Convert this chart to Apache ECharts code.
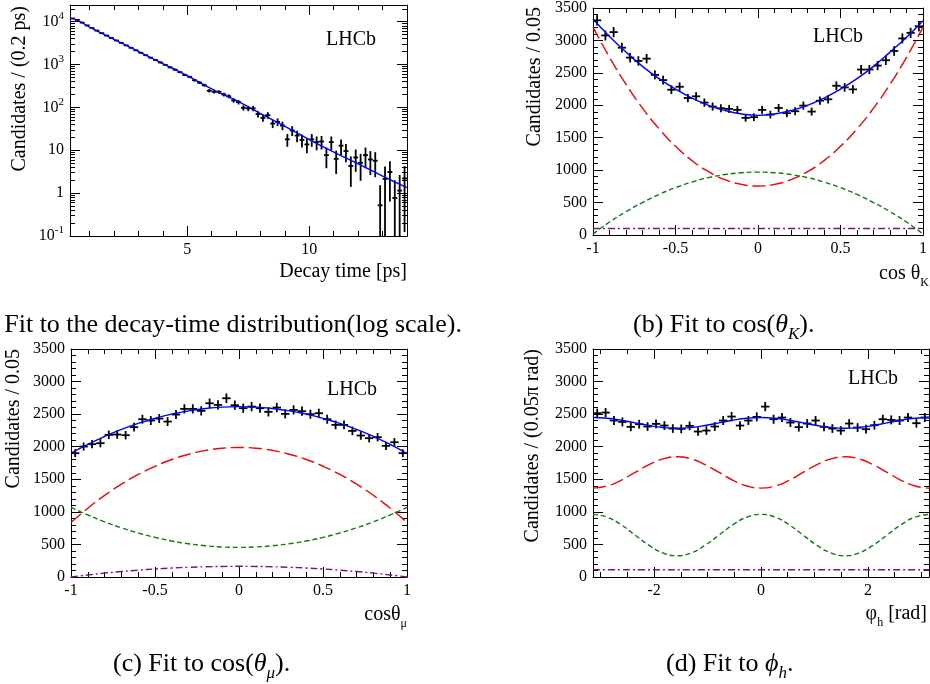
<!DOCTYPE html>
<html>
<head>
<meta charset="utf-8">
<script src="https://cdn.jsdelivr.net/npm/echarts@6/dist/echarts.min.js"></script>
<style>
html, body { margin: 0; background: #fff; }
#chart { width: 930px; height: 684px; }
</style>
</head>
<body>
<div id="chart"></div>
<script>
// (a) decay time, bins of 0.2 ps
const decayTime = [0.3, 0.5, 0.7, 0.9, 1.1, 1.3, 1.5, 1.7, 1.9, 2.1, 2.3, 2.5, 2.7, 2.9, 3.1, 3.3, 3.5, 3.7, 3.9, 4.1, 4.3, 4.5, 4.7, 4.9, 5.1, 5.3, 5.5, 5.7, 5.9, 6.1, 6.3, 6.5, 6.7, 6.9, 7.1, 7.3, 7.5, 7.7, 7.9, 8.1, 8.3, 8.5, 8.7, 8.9, 9.1, 9.3, 9.5, 9.7, 9.9, 10.1, 10.3, 10.5, 10.7, 10.9, 11.1, 11.3, 11.5, 11.7, 11.9, 12.1, 12.3, 12.5, 12.7, 12.9, 13.1, 13.3, 13.5, 13.7, 13.9]
const decayCounts = [11900, 11000, 9500, 8200, 7100, 6200, 5400, 4750, 4150, 3650, 3200, 2800, 2460, 2150, 1880, 1650, 1450, 1280, 1120, 985, 860, 760, 665, 570, 515, 430, 380, 330, 245, 232, 230, 200, 182, 146, 133, 98, 95, 95, 70, 57, 66, 42, 46, 38, 18, 29, 22, 17.5, 13.7, 18, 15.5, 16, 7.7, 15.5, 6.3, 12.8, 9.6, 4.3, 6.8, 5.1, 7.7, 6.1, 5.7, 0.52, 2.15, 3.1, 0.77, 1.15, 2.2]
const decayFitT = [0.2, 0.5, 1, 2, 3, 4, 5, 6, 7, 8, 9, 10, 11, 12, 13, 14]
const decayFit = [12100, 10900, 7450, 3880, 2020, 1055, 550, 270, 145, 72, 36, 17.8, 9.1, 4.8, 2.5, 1.35]

// (b), (c) cos bins of 0.05
const cosBins = [-0.975, -0.925, -0.875, -0.825, -0.775, -0.725, -0.675, -0.625, -0.575, -0.525, -0.475, -0.425, -0.375, -0.325, -0.275, -0.225, -0.175, -0.125, -0.075, -0.025, 0.025, 0.075, 0.125, 0.175, 0.225, 0.275, 0.325, 0.375, 0.425, 0.475, 0.525, 0.575, 0.625, 0.675, 0.725, 0.775, 0.825, 0.875, 0.925, 0.975]
const cosKCounts = [3310, 3077, 3128, 2888, 2735, 2684, 2719, 2469, 2388, 2240, 2286, 2112, 2138, 2041, 1980, 1954, 1944, 1929, 1806, 1816, 1929, 1857, 1959, 1878, 1908, 1995, 1903, 2071, 2092, 2301, 2276, 2245, 2551, 2551, 2612, 2694, 2837, 3031, 3117, 3219]
const cosMuCounts = [1901, 2003, 2039, 2054, 2182, 2187, 2177, 2300, 2422, 2402, 2432, 2386, 2494, 2581, 2581, 2550, 2667, 2642, 2744, 2637, 2591, 2616, 2591, 2535, 2601, 2504, 2565, 2545, 2499, 2514, 2422, 2335, 2335, 2243, 2172, 2131, 2146, 2013, 2069, 1901]

const cosCurveX = [-1, -0.9, -0.8, -0.7, -0.6, -0.5, -0.4, -0.3, -0.2, -0.1, 0, 0.1, 0.2, 0.3, 0.4, 0.5, 0.6, 0.7, 0.8, 0.9, 1]
const cosKTotal = [3330, 3060, 2820, 2600, 2410, 2250, 2110, 2000, 1920, 1865, 1845, 1865, 1920, 2000, 2110, 2250, 2410, 2600, 2820, 3050, 3305]
const cosKRed = [3205, 2740, 2323, 1956, 1637, 1368, 1147, 976, 853, 780, 755, 780, 853, 976, 1147, 1368, 1637, 1956, 2323, 2740, 3205]
const cosKGreen = [15, 200, 360, 500, 625, 730, 815, 885, 932, 960, 970, 960, 932, 885, 815, 730, 625, 500, 360, 200, 15]
const cosKPurpleX = [-1, 1]
const cosKPurple = [100, 100]

const cosMuTotal = [1900, 2036, 2157, 2265, 2358, 2436, 2501, 2551, 2586, 2608, 2615, 2608, 2586, 2551, 2501, 2436, 2358, 2265, 2157, 2036, 1895]
const cosMuRed = [838, 1056, 1252, 1425, 1574, 1700, 1804, 1885, 1942, 1977, 1988, 1977, 1942, 1885, 1804, 1700, 1574, 1425, 1252, 1056, 838]
const cosMuGreen = [1068, 952, 847, 755, 676, 608, 553, 510, 480, 461, 455, 461, 480, 510, 553, 608, 676, 755, 847, 952, 1068]
const cosMuPurple = [0, 31, 59, 84, 105, 123, 138, 149, 157, 162, 164, 162, 157, 149, 138, 123, 105, 84, 59, 31, 0]

// (d) phi bins of 0.05 pi
const phiBins = [-3.063, -2.906, -2.749, -2.592, -2.435, -2.278, -2.121, -1.963, -1.806, -1.649, -1.492, -1.335, -1.178, -1.021, -0.864, -0.707, -0.550, -0.393, -0.236, -0.079, 0.079, 0.236, 0.393, 0.550, 0.707, 0.864, 1.021, 1.178, 1.335, 1.492, 1.649, 1.806, 1.963, 2.121, 2.278, 2.435, 2.592, 2.749, 2.906, 3.063]
const phiCounts = [2514, 2524, 2402, 2381, 2305, 2346, 2310, 2351, 2325, 2279, 2274, 2320, 2233, 2248, 2310, 2402, 2463, 2325, 2402, 2458, 2616, 2422, 2448, 2371, 2300, 2356, 2402, 2305, 2279, 2248, 2356, 2294, 2269, 2330, 2422, 2412, 2402, 2448, 2361, 2448]
const phiCurveX = [-3.1416, -2.88, -2.618, -2.356, -2.094, -1.833, -1.571, -1.309, -1.047, -0.785, -0.524, -0.262, 0, 0.262, 0.524, 0.785, 1.047, 1.309, 1.571, 1.833, 2.094, 2.356, 2.618, 2.88, 3.1416]
const phiTotal = [2448, 2437, 2407, 2366, 2325, 2295, 2284, 2295, 2325, 2366, 2407, 2437, 2448, 2437, 2407, 2366, 2325, 2295, 2284, 2295, 2325, 2366, 2407, 2437, 2448]
const phiRed = [1365, 1397, 1485, 1605, 1725, 1813, 1845, 1813, 1725, 1605, 1485, 1397, 1365, 1397, 1485, 1605, 1725, 1813, 1845, 1813, 1725, 1605, 1485, 1397, 1365]
const phiGreen = [961, 919, 803, 644, 486, 369, 327, 369, 486, 644, 803, 919, 961, 919, 803, 644, 486, 369, 327, 369, 486, 644, 803, 919, 961]
const phiPurpleX = [-3.1416, 3.1416]
const phiPurple = [112, 112]

// tick values
const logMajor = [0.1, 1, 10, 100, 1000, 10000]
const decayMajorT = [5, 10]
const decayMinorT = [1, 2, 3, 4, 6, 7, 8, 9, 11, 12, 13, 14]
const phiMajor = [-2, 0, 2]
const phiMinor = [-3, -2.5, -1.5, -1, -0.5, 0.5, 1, 1.5, 2.5, 3]

const FONT = "Liberation Serif"
const ERR_SCALE = 1.4

let logMinor = []
for (let p = -1; p <= 4; p++) {
    for (let m = 2; m <= 9; m++) logMinor.push(m * Math.pow(10, p))
}

const grids = [
    { left: 70, top: 5, width: 337, height: 231 },
    { left: 593, top: 7, width: 336, height: 228 },
    { left: 71, top: 349, width: 336, height: 228 },
    { left: 593, top: 349, width: 336, height: 228 },
]

function axis(grid, position, min, max, o) {
    const a = {
        gridIndex: grid,
        position: position,
        type: o.type || "value",
        min: min,
        max: max,
        axisLine: { show: o.line !== false, onZero: false, lineStyle: { color: "#000", width: 1 } },
        axisTick: { show: true, inside: true, length: o.len || 10, lineStyle: { color: "#000", width: 1 } },
        axisLabel: {
            show: !!o.label,
            color: "#000",
            fontFamily: FONT,
            fontSize: 16,
            margin: 6,
            formatter: v => String(v),
        },
        splitLine: { show: false },
    }
    if (o.type === "log") a.logBase = 10
    if (o.interval) a.interval = o.interval
    if (o.ticks) a.axisTick.customValues = o.ticks
    if (o.ticks && o.label) a.axisLabel.customValues = o.ticks
    if (o.formatter) a.axisLabel.formatter = o.formatter
    if (o.rich) {
        a.axisLabel.rich = o.rich
        a.axisLabel.lineHeight = 22
    }
    if (o.minor) a.minorTick = { show: true, splitNumber: o.minor, length: 5, lineStyle: { color: "#000", width: 1 } }
    return a
}

const logFormatter = v => {
    const p = Math.round(Math.log10(v))
    if (p === 0) return "1"
    if (p === 1) return "10"
    return "10{sup|" + p + "}"
}
const supRich = { sup: { fontSize: 11, lineHeight: 11, verticalAlign: "top", fontFamily: FONT, color: "#000" } }

const PI = Math.PI
const xAxes = [
    axis(0, "bottom", 0.2, 14, { ticks: decayMajorT, label: true }),
    axis(0, "bottom", 0.2, 14, { ticks: decayMinorT, len: 5, line: false }),
    axis(0, "top", 0.2, 14, { ticks: decayMajorT }),
    axis(0, "top", 0.2, 14, { ticks: decayMinorT, len: 5, line: false }),
    axis(1, "bottom", -1, 1, { interval: 0.5, minor: 5, label: true }),
    axis(1, "top", -1, 1, { interval: 0.5, minor: 5 }),
    axis(2, "bottom", -1, 1, { interval: 0.5, minor: 5, label: true }),
    axis(2, "top", -1, 1, { interval: 0.5, minor: 5 }),
    axis(3, "bottom", -PI, PI, { ticks: phiMajor, label: true }),
    axis(3, "bottom", -PI, PI, { ticks: phiMinor, len: 5, line: false }),
    axis(3, "top", -PI, PI, { ticks: phiMajor }),
    axis(3, "top", -PI, PI, { ticks: phiMinor, len: 5, line: false }),
]
const yAxes = [
    axis(0, "left", 0.1, 24500, { type: "log", ticks: logMajor, label: true, formatter: logFormatter, rich: supRich }),
    axis(0, "left", 0.1, 24500, { type: "log", ticks: logMinor, len: 5, line: false }),
    axis(0, "right", 0.1, 24500, { type: "log", ticks: logMajor }),
    axis(0, "right", 0.1, 24500, { type: "log", ticks: logMinor, len: 5, line: false }),
    axis(1, "left", 0, 3500, { interval: 500, minor: 5, label: true }),
    axis(1, "right", 0, 3500, { interval: 500, minor: 5 }),
    axis(2, "left", 0, 3500, { interval: 500, minor: 5, label: true }),
    axis(2, "right", 0, 3500, { interval: 500, minor: 5 }),
    axis(3, "left", 0, 3500, { interval: 500, minor: 5, label: true }),
    axis(3, "right", 0, 3500, { interval: 500, minor: 5 }),
]

function points(xs, ys, halfW, xi, yi, floor) {
    return {
        type: "custom",
        xAxisIndex: xi,
        yAxisIndex: yi,
        clip: true,
        z: 3,
        data: xs.map((x, i) => [x, ys[i], ERR_SCALE * Math.sqrt(ys[i])]),
        renderItem: (params, api) => {
            const x = api.value(0)
            const y = api.value(1)
            const e = api.value(2)
            const c = api.coord([x, y])
            const l = api.coord([x - halfW, y])
            const r = api.coord([x + halfW, y])
            const t = api.coord([x, y + e])
            const b = api.coord([x, Math.max(y - e, floor)])
            const st = { stroke: "#000", lineWidth: 1.8 }
            return {
                type: "group",
                children: [
                    { type: "line", shape: { x1: l[0], y1: c[1], x2: r[0], y2: c[1] }, style: st },
                    { type: "line", shape: { x1: c[0], y1: t[1], x2: c[0], y2: b[1] }, style: st },
                ],
            }
        },
    }
}

function curve(xs, ys, xi, yi, color, dash) {
    return {
        type: "line",
        xAxisIndex: xi,
        yAxisIndex: yi,
        data: xs.map((x, i) => [x, ys[i]]),
        smooth: true,
        showSymbol: false,
        z: 4,
        lineStyle: { color: color, width: 1.4, type: dash || "solid" },
    }
}

const RED_DASH = [13, 5]
const GREEN_DASH = [5, 3]
const PURPLE_DASH = [7, 3, 2, 3]
const GREEN = "#0f7a0f"
const PURPLE = "#80107f"

const series = [
    points(decayTime, decayCounts, 0.1, 0, 0, 0.01),
    curve(decayFitT, decayFit, 0, 0, "#0000ff"),

    points(cosBins, cosKCounts, 0.025, 4, 4, -100),
    curve(cosCurveX, cosKRed, 4, 4, "#ff0000", RED_DASH),
    curve(cosCurveX, cosKGreen, 4, 4, GREEN, GREEN_DASH),
    curve(cosKPurpleX, cosKPurple, 4, 4, PURPLE, PURPLE_DASH),
    curve(cosCurveX, cosKTotal, 4, 4, "#0000ff"),

    points(cosBins, cosMuCounts, 0.025, 6, 6, -100),
    curve(cosCurveX, cosMuRed, 6, 6, "#ff0000", RED_DASH),
    curve(cosCurveX, cosMuGreen, 6, 6, GREEN, GREEN_DASH),
    curve(cosCurveX, cosMuPurple, 6, 6, PURPLE, PURPLE_DASH),
    curve(cosCurveX, cosMuTotal, 6, 6, "#0000ff"),

    points(phiBins, phiCounts, 0.0785, 8, 8, -100),
    curve(phiCurveX, phiRed, 8, 8, "#ff0000", RED_DASH),
    curve(phiCurveX, phiGreen, 8, 8, GREEN, GREEN_DASH),
    curve(phiPurpleX, phiPurple, 8, 8, PURPLE, PURPLE_DASH),
    curve(phiCurveX, phiTotal, 8, 8, "#0000ff"),
]

// texts
function txt(x, y, text, align, size, rot, rich) {
    const g = {
        type: "text",
        x: x,
        y: y,
        z: 10,
        style: {
            text: text,
            fill: "#000",
            font: size + 'px "' + FONT + '"',
            textAlign: align,
            textVerticalAlign: "middle",
        },
    }
    if (rot) g.rotation = rot
    if (rich) g.style.rich = rich
    return g
}
const subRich = {
    m: { fontSize: 20, fontFamily: FONT, fill: "#000", lineHeight: 30 },
    s: { fontSize: 12, fontFamily: FONT, fill: "#000", lineHeight: 12, verticalAlign: "bottom" },
}
const capRich = {
    m: { fontSize: 26, fontFamily: FONT, fill: "#000", lineHeight: 36 },
    i: { fontSize: 26, fontFamily: FONT, fontStyle: "italic", fill: "#000", lineHeight: 36 },
    s: { fontSize: 17, fontFamily: FONT, fontStyle: "italic", fill: "#000", lineHeight: 17, verticalAlign: "bottom" },
}

const graphic = [
    txt(20, 6, "Candidates / (0.2 ps)", "right", 20, PI / 2),
    txt(535, 7, "Candidates / 0.05", "right", 20, PI / 2),
    txt(14, 349, "Candidates / 0.05", "right", 20, PI / 2),
    txt(533, 349, "Candidates / (0.05\u03c0 rad)", "right", 20, PI / 2),

    txt(351, 40, "LHCb", "center", 20),
    txt(838, 37, "LHCb", "center", 20),
    txt(352, 390, "LHCb", "center", 20),
    txt(873, 379, "LHCb", "center", 20),

    txt(407, 272, "Decay time [ps]", "right", 20),
    txt(929, 274, "{m|cos \u03b8}{s|K}", "right", 20, 0, subRich),
    txt(407, 615, "{m|cos\u03b8}{s|\u03bc}", "right", 20, 0, subRich),
    txt(927, 614, "{m|\u03c6}{s|h}{m| [rad]}", "right", 20, 0, subRich),

    txt(462, 325, "{m|(a) Fit to the decay-time distribution(log scale).}", "right", 26, 0, capRich),
    txt(633, 325, "{m|(b) Fit to cos(}{i|\u03b8}{s|K}{m|).}", "left", 26, 0, capRich),
    txt(113, 664, "{m|(c) Fit to cos(}{i|\u03b8}{s|\u03bc}{m|).}", "left", 26, 0, capRich),
    txt(666, 664, "{m|(d) Fit to }{i|\u03d5}{s|h}{m|.}", "left", 26, 0, capRich),
]

const myChart = echarts.init(document.getElementById("chart"))
myChart.setOption({
    animation: false,
    backgroundColor: "#fff",
    grid: grids,
    xAxis: xAxes,
    yAxis: yAxes,
    series: series,
    graphic: graphic,
})
</script>
</body>
</html>
